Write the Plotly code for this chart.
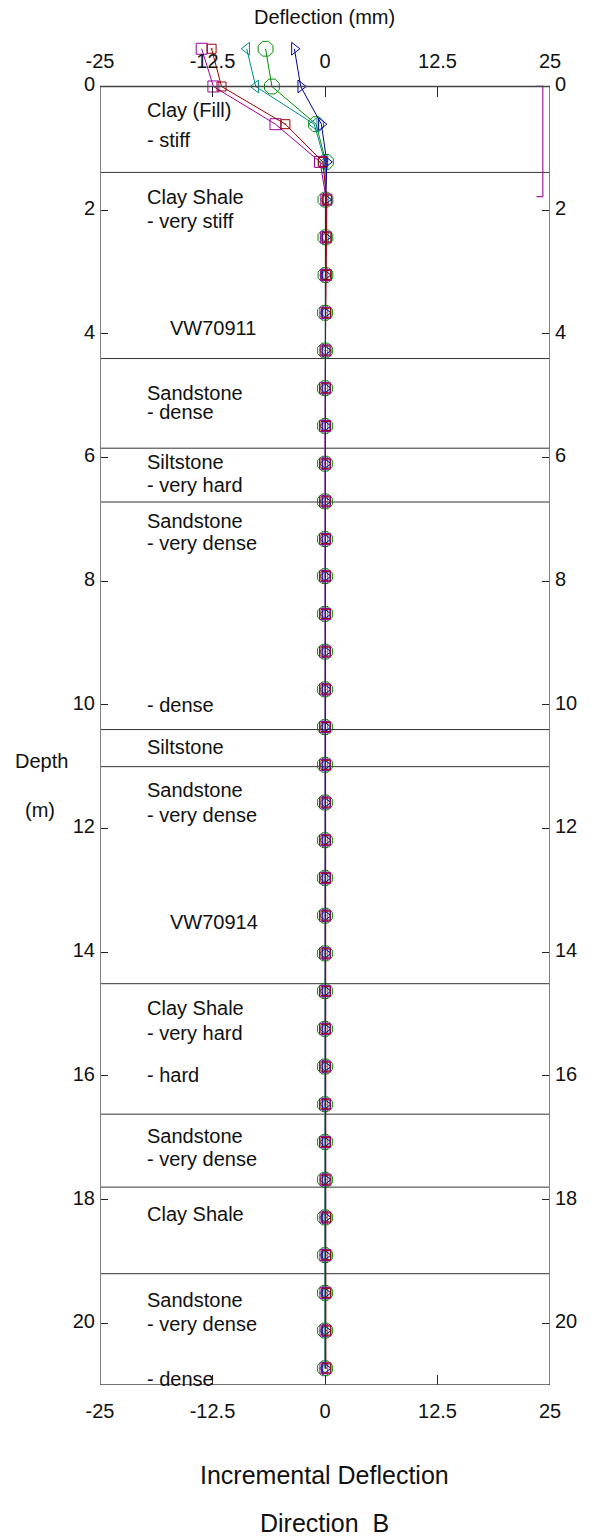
import plotly.graph_objects as go

# ---------------- data ----------------
depth_m = [-0.61, 0.00, 0.61, 1.22, 1.83, 2.44, 3.05, 3.66, 4.27, 4.88, 5.49, 6.10,
           6.71, 7.32, 7.92, 8.53, 9.14, 9.75, 10.36, 10.97, 11.58, 12.19, 12.80,
           13.41, 14.02, 14.63, 15.24, 15.85, 16.46, 17.07, 17.68, 18.29, 18.90,
           19.51, 20.12, 20.73]

defl_purple = [-13.7, -12.4, -5.5, -0.55, 0.15, 0.10, 0.10, 0.05, 0.05, 0.00, 0.00, 0.00,
               0.00, 0.00, 0.00, 0.00, 0.00, 0.00, 0.00, 0.00, 0.00, 0.00, 0.00,
               0.00, 0.00, 0.00, 0.00, 0.00, 0.00, 0.00, 0.05, 0.05, 0.05,
               0.05, 0.05, 0.05]
defl_red = [-12.6, -11.5, -4.4, -0.25, 0.20, 0.15, 0.10, 0.10, 0.05, 0.05, 0.05, 0.05,
            0.05, 0.05, 0.05, 0.05, 0.05, 0.05, 0.05, 0.05, 0.05, 0.05, 0.05,
            0.05, 0.05, 0.05, 0.05, 0.05, 0.05, 0.05, 0.05, 0.10, 0.10,
            0.10, 0.10, 0.10]
defl_teal = [-8.7, -7.7, -1.2, 0.00, 0.05, 0.05, 0.00, 0.00, 0.00, 0.00, 0.00, 0.00,
             0.00, 0.00, 0.00, 0.00, 0.00, 0.00, 0.00, 0.00, 0.00, 0.00, 0.00,
             0.00, 0.00, 0.00, 0.00, 0.00, 0.00, 0.00, 0.00, 0.00, 0.00,
             0.00, 0.00, 0.00]
defl_green = [-6.6, -5.9, -1.0, 0.10, 0.05, 0.05, 0.05, 0.00, 0.00, 0.00, 0.00, 0.00,
              0.00, 0.00, 0.00, 0.00, 0.00, 0.00, 0.00, 0.00, 0.00, 0.00, 0.00,
              0.00, 0.00, 0.00, 0.00, 0.00, 0.00, 0.00, 0.00, 0.00, 0.00,
              0.00, 0.00, 0.00]
defl_blue = [-3.4, -2.7, -0.4, 0.20, 0.10, 0.05, 0.05, 0.05, 0.05, 0.05, 0.05, 0.05,
             0.05, 0.05, 0.05, 0.05, 0.05, 0.05, 0.05, 0.05, 0.05, 0.05, 0.05,
             0.05, 0.05, 0.05, 0.05, 0.05, 0.05, 0.05, 0.05, 0.05, 0.05,
             0.05, 0.05, 0.05]

layer_bounds_m = [1.39, 4.40, 5.85, 6.72, 10.40, 11.00, 14.51, 16.62, 17.80, 19.20]

layer_text = ["Clay (Fill)", "- stiff", "Clay Shale", "- very stiff", "VW70911",
              "Sandstone", "- dense", "Siltstone", "- very hard", "Sandstone",
              "- very dense", "- dense", "Siltstone", "Sandstone", "- very dense",
              "VW70914", "Clay Shale", "- very hard", "- hard", "Sandstone",
              "- very dense", "Clay Shale", "Sandstone", "- very dense", "- dense"]
layer_text_depth = [0.38, 0.86, 1.78, 2.18, 3.90, 4.95, 5.27, 6.08, 6.44, 7.02,
                    7.39, 10.00, 10.69, 11.37, 11.78, 13.52, 14.90, 15.30, 15.98,
                    16.97, 17.35, 18.24, 19.62, 20.02, 20.90]
layer_text_x = [-20, -20, -20, -20, -17.5, -20, -20, -20, -20, -20, -20, -20, -20,
                -20, -20, -17.5, -20, -20, -20, -20, -20, -20, -20, -20, -20]

bracket_x = [23.5, 24.2, 24.2, 23.5]
bracket_y = [0.0, 0.0, 1.78, 1.78]

x_ticks = [-25, -12.5, 0, 12.5, 25]
x_tick_text = ["-25", "-12.5", "0", "12.5", "25"]
y_ticks = [0, 2, 4, 6, 8, 10, 12, 14, 16, 18, 20]
y_tick_text = ["0", "2", "4", "6", "8", "10", "12", "14", "16", "18", "20"]

X_MIN, X_MAX = -25, 25
Y_TOP_EXT, Y_BOT = -0.8, 21.0

FONT = "Liberation Sans, Arial, sans-serif"

series = [
    ("green", defl_green, "#009000", "octagon-open", 16),
    ("teal", defl_teal, "#008c8c", "triangle-left-open", 11),
    ("blue", defl_blue, "#0000a0", "triangle-right-open", 11),
    ("purple", defl_purple, "#9a009a", "square-open", 11),
    ("red", defl_red, "#9a0000", "square-open-dot", 9),
]

fig = go.Figure()
for name, vals, col, sym, sz in series:
    fig.add_trace(go.Scatter(
        x=vals, y=depth_m, mode="lines+markers", name=name,
        line=dict(color=col, width=1),
        marker=dict(symbol=sym, size=sz, color=col, line=dict(color=col, width=1)),
        cliponaxis=False, showlegend=False, hoverinfo="skip"))

fig.add_trace(go.Scatter(x=bracket_x, y=bracket_y, mode="lines",
                         line=dict(color="#a020a0", width=1.2),
                         showlegend=False, hoverinfo="skip"))

# invisible traces to activate the mirrored axes
fig.add_trace(go.Scatter(x=[X_MIN, X_MAX], y=[None, None], xaxis="x2", yaxis="y",
                         mode="lines", showlegend=False, hoverinfo="skip"))
fig.add_trace(go.Scatter(x=[None, None], y=[0, 21], xaxis="x", yaxis="y2",
                         mode="lines", showlegend=False, hoverinfo="skip"))

shapes = []
# frame
shapes.append(dict(type="line", xref="x", yref="y", x0=X_MIN, x1=X_MIN, y0=0, y1=Y_BOT,
                   line=dict(color="#808080", width=2)))
shapes.append(dict(type="line", xref="x", yref="y", x0=X_MAX, x1=X_MAX, y0=0, y1=Y_BOT,
                   line=dict(color="#808080", width=2)))
shapes.append(dict(type="line", xref="x", yref="y", x0=X_MIN, x1=X_MAX, y0=0, y1=0,
                   line=dict(color="#444444", width=1.5)))
shapes.append(dict(type="line", xref="x", yref="y", x0=X_MIN, x1=X_MAX, y0=Y_BOT, y1=Y_BOT,
                   line=dict(color="#444444", width=1.5)))
for d in layer_bounds_m:
    shapes.append(dict(type="line", xref="x", yref="y", x0=X_MIN, x1=X_MAX, y0=d, y1=d,
                       line=dict(color="#333333", width=1), layer="below"))

annotations = []
for t, d, xx in zip(layer_text, layer_text_depth, layer_text_x):
    annotations.append(dict(text=t, x=xx, y=d, xref="x", yref="y", xanchor="left",
                            yanchor="middle", showarrow=False,
                            font=dict(family=FONT, size=20, color="#111111")))

annotations += [
    dict(text="Deflection (mm)", x=0.498, y=1.0145, xref="paper", yref="paper",
         showarrow=False, xanchor="center", yanchor="middle",
         font=dict(family=FONT, size=20, color="#111111")),
    dict(text="Incremental Deflection", x=0.498, y=-0.0668, xref="paper", yref="paper",
         showarrow=False, xanchor="center", yanchor="middle",
         font=dict(family=FONT, size=25, color="#111111")),
    dict(text="Direction\u00a0\u00a0B", x=0.498, y=-0.1024, xref="paper", yref="paper",
         showarrow=False, xanchor="center", yanchor="middle",
         font=dict(family=FONT, size=25, color="#111111")),
    dict(text="Depth", x=-0.131, y=10.91, xref="paper", yref="y",
         showarrow=False, xanchor="center", yanchor="middle",
         font=dict(family=FONT, size=20, color="#111111")),
    dict(text="(m)", x=-0.133, y=11.70, xref="paper", yref="y",
         showarrow=False, xanchor="center", yanchor="middle",
         font=dict(family=FONT, size=20, color="#111111")),
]

tickfont = dict(family=FONT, size=20, color="#111111")
common_x = dict(range=[X_MIN, X_MAX], tickvals=x_ticks, ticktext=x_tick_text,
                ticks="inside", ticklen=10, tickcolor="#222222", tickwidth=1,
                showline=False, showgrid=False, zeroline=False, tickfont=tickfont)
common_y = dict(range=[Y_BOT, Y_TOP_EXT], tickvals=y_ticks, ticktext=y_tick_text,
                ticks="inside", ticklen=8, tickcolor="#222222", tickwidth=1,
                showline=False, showgrid=False, zeroline=False, tickfont=tickfont)

fig.update_layout(
    width=597, height=1539,
    margin=dict(l=100, r=47, t=37, b=154, pad=0),
    paper_bgcolor="white", plot_bgcolor="white",
    showlegend=False,
    xaxis=dict(**common_x, side="bottom", anchor="y", ticklabelstandoff=12),
    xaxis2=dict(**common_x, side="top", overlaying="x", anchor="free",
                position=Y_BOT / (Y_BOT - Y_TOP_EXT), ticklabelstandoff=14),
    yaxis=dict(**common_y, side="left", anchor="x", ticklabelstandoff=4,
               ticklabelshift=2),
    yaxis2=dict(**common_y, side="right", overlaying="y", anchor="x",
                ticklabelstandoff=4, ticklabelshift=2),
    shapes=shapes,
    annotations=annotations,
)

fig.write_html("out.html")
